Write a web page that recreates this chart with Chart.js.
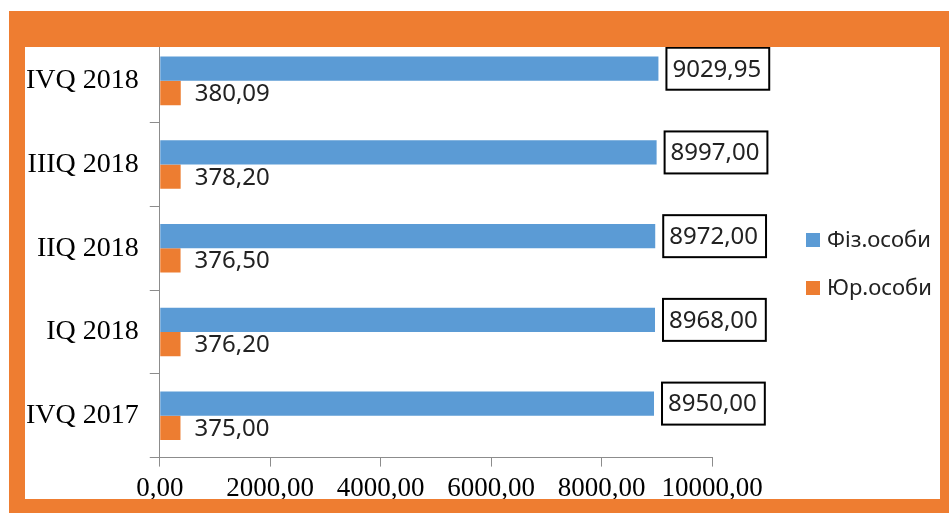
<!DOCTYPE html>
<html>
<head>
<meta charset="utf-8">
<script src="https://cdn.jsdelivr.net/npm/chart.js@4/dist/chart.umd.min.js"></script>
<style>
  html, body { margin: 0; padding: 0; background: #fff; }
  #wrap { width: 949px; height: 513px; }
</style>
</head>
<body>
<div id="wrap"><canvas id="chart"></canvas></div>
<script>
// categories top to bottom
var quarters = ['IVQ 2018', 'IIIQ 2018', 'IIQ 2018', 'IQ 2018', 'IVQ 2017'];
var fizValues = [9029.95, 8997.00, 8972.00, 8968.00, 8950.00];
var yurValues = [380.09, 378.20, 376.50, 376.20, 375.00];
var seriesNames = ['Фіз.особи', 'Юр.особи'];
var xTicks = [0, 2000, 4000, 6000, 8000, 10000];

var blue = '#5B9BD5';
var orange = '#ED7D31';
var axisGray = '#8c8c8c';

function fmt(v) {
    return v.toFixed(2).replace('.', ',');
}

// value labels next to each bar (box around the first series)
var valueLabels = {
    id: 'valueLabels',
    afterDatasetsDraw: function(chart) {
        var ctx = chart.ctx;
        ctx.save();
        ctx.font = '24px "Noto Sans"';
        ctx.textBaseline = 'middle';
        ctx.fillStyle = '#222';
        chart.data.datasets.forEach(function(ds, i) {
            var meta = chart.getDatasetMeta(i);
            meta.data.forEach(function(bar, j) {
                var txt = fmt(ds.data[j]);
                var w = ctx.measureText(txt).width;
                if (i === 0) {
                    var bx = bar.x + 8, by = bar.y - 21;
                    ctx.fillStyle = '#fff';
                    ctx.fillRect(bx, by, w + 14, 42);
                    ctx.lineWidth = 2;
                    ctx.strokeStyle = '#000';
                    ctx.strokeRect(bx, by, w + 14, 42);
                    ctx.fillStyle = '#222';
                    ctx.fillText(txt, bx + 6, bar.y + 1);
                } else {
                    ctx.fillText(txt, bar.x + 14, bar.y + 1);
                }
            });
        });
        ctx.restore();
    }
};

// legend on the right and the orange frame round the picture
var frameAndLegend = {
    id: 'frameAndLegend',
    afterDraw: function(chart) {
        var ctx = chart.ctx;
        ctx.save();
        ctx.font = '22px "Noto Sans"';
        ctx.textBaseline = 'middle';
        var colors = [blue, orange];
        seriesNames.forEach(function(name, i) {
            var cy = 240 + i * 48;
            ctx.fillStyle = colors[i];
            ctx.fillRect(806, cy - 7, 14, 14);
            ctx.fillStyle = '#222';
            ctx.fillText(name, 827, cy + 1);
        });
        ctx.fillStyle = '#EE7D31';
        ctx.fillRect(9, 11, 940, 36);
        ctx.fillRect(9, 11, 16, 502);
        ctx.fillRect(940, 11, 9, 502);
        ctx.fillRect(9, 499, 940, 14);
        ctx.restore();
    }
};

var ctx = document.getElementById('chart').getContext('2d');
var chart = new Chart(ctx, {
    type: 'bar',
    data: {
        labels: quarters,
        datasets: [{
            label: seriesNames[0],
            data: fizValues,
            backgroundColor: blue,
            categoryPercentage: 0.58,
            barPercentage: 1.0
        }, {
            label: seriesNames[1],
            data: yurValues,
            backgroundColor: orange,
            categoryPercentage: 0.58,
            barPercentage: 1.0
        }]
    },
    options: {
        indexAxis: 'y',
        responsive: true,
        maintainAspectRatio: false,
        animation: false,
        layout: { padding: { top: 39, right: 237, bottom: 2, left: 15 } },
        plugins: {
            legend: { display: false },
            tooltip: { enabled: false }
        },
        scales: {
            x: {
                min: 0,
                max: 10000,
                afterBuildTicks: function(scale) {
                    scale.ticks = xTicks.map(function(v) { return { value: v }; });
                },
                grid: { drawOnChartArea: false, tickLength: 9, color: axisGray },
                border: { color: axisGray, width: 1 },
                ticks: {
                    padding: 6,
                    color: '#000',
                    maxRotation: 0,
                    minRotation: 0,
                    autoSkip: false,
                    font: { family: '"Liberation Serif"', size: 27 },
                    callback: function(v) { return fmt(v); }
                }
            },
            y: {
                grid: { drawOnChartArea: false, offset: true, tickLength: 10, color: axisGray },
                border: { color: axisGray, width: 1 },
                ticks: {
                    padding: 11,
                    color: '#000',
                    font: { family: '"Liberation Serif"', size: 28 }
                }
            }
        }
    },
    plugins: [valueLabels, frameAndLegend]
});
</script>
</body>
</html>
